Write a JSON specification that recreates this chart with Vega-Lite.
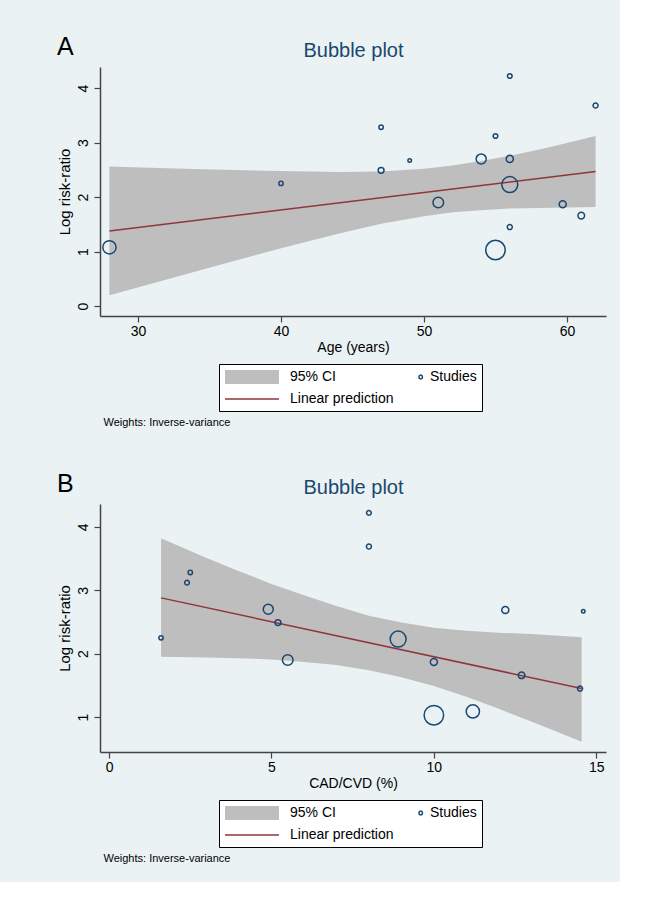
{
  "$schema": "https://vega.github.io/schema/vega-lite/v6.json",
  "background": "#eaf2f3",
  "padding": {"left": 57, "top": 35, "right": 14, "bottom": 19},
  "spacing": 45,
  "config": {
    "view": {"stroke": null, "fill": "white"},
    "font": "Liberation Sans",
    "axis": {"labelFont": "Liberation Sans", "titleFont": "Liberation Sans", "labelColor": "black", "titleColor": "black", "titleFontWeight": "normal", "tickColor": "#444444", "domainColor": "#444444", "domainWidth": 1.5, "tickWidth": 1.2, "gridColor": "#eaf2f3", "gridWidth": 1.5},
    "legend": {
      "orient": "none", "title": null, "direction": "horizontal", "columns": 2, "gridAlign": "none",
      "symbolSize": 196, "symbolStrokeWidth": 1.5, "symbolOpacity": 1, "labelOffset": 50, "labelFontSize": 14, "labelFont": "Liberation Sans", "labelColor": "black", "labelLimit": 300,
      "strokeColor": "black", "fillColor": "white", "padding": 5, "columnPadding": -30, "rowPadding": 4
    },
    "title": {"font": "Liberation Sans"}
  },
  "datasets": {
    "leg": [{"s": "95% CI"}, {"s": "Studies"}, {"s": "Linear prediction"}],
    "bandA": [
      {"x": 28, "lo": 0.20, "hi": 2.56}, {"x": 32, "lo": 0.49, "hi": 2.53}, {"x": 36, "lo": 0.78, "hi": 2.50},
      {"x": 40, "lo": 1.06, "hi": 2.48}, {"x": 44, "lo": 1.33, "hi": 2.46}, {"x": 47, "lo": 1.51, "hi": 2.47},
      {"x": 50, "lo": 1.65, "hi": 2.52}, {"x": 52, "lo": 1.72, "hi": 2.58}, {"x": 54, "lo": 1.76, "hi": 2.66},
      {"x": 56, "lo": 1.79, "hi": 2.76}, {"x": 58, "lo": 1.80, "hi": 2.87}, {"x": 60, "lo": 1.81, "hi": 2.99},
      {"x": 62, "lo": 1.82, "hi": 3.12}
    ],
    "lineA": [{"x": 28, "y": 1.38}, {"x": 62, "y": 2.47}],
    "ptsA": [
      {"x": 28, "y": 1.08, "w": 56}, {"x": 40, "y": 2.25, "w": 6},
      {"x": 47, "y": 3.28, "w": 6}, {"x": 47, "y": 2.49, "w": 11},
      {"x": 49, "y": 2.67, "w": 4}, {"x": 51, "y": 1.90, "w": 36},
      {"x": 54, "y": 2.70, "w": 32}, {"x": 55, "y": 3.12, "w": 7},
      {"x": 56, "y": 4.22, "w": 7}, {"x": 56, "y": 2.70, "w": 16},
      {"x": 56, "y": 2.23, "w": 81}, {"x": 56, "y": 1.45, "w": 8},
      {"x": 55, "y": 1.03, "w": 121}, {"x": 59.7, "y": 1.87, "w": 16},
      {"x": 61, "y": 1.66, "w": 14}, {"x": 62, "y": 3.68, "w": 8}
    ],
    "bandB": [
      {"x": 1.6, "lo": 1.95, "hi": 3.82}, {"x": 3, "lo": 1.94, "hi": 3.51}, {"x": 4, "lo": 1.93, "hi": 3.30},
      {"x": 5, "lo": 1.91, "hi": 3.10}, {"x": 6, "lo": 1.87, "hi": 2.92}, {"x": 7, "lo": 1.82, "hi": 2.75},
      {"x": 8, "lo": 1.74, "hi": 2.60}, {"x": 9, "lo": 1.63, "hi": 2.49}, {"x": 10, "lo": 1.49, "hi": 2.41},
      {"x": 11, "lo": 1.32, "hi": 2.36}, {"x": 12, "lo": 1.13, "hi": 2.33}, {"x": 13, "lo": 0.93, "hi": 2.31},
      {"x": 14.55, "lo": 0.61, "hi": 2.26}
    ],
    "lineB": [{"x": 1.6, "y": 2.88}, {"x": 14.55, "y": 1.45}],
    "ptsB": [
      {"x": 11.2, "y": 1.09, "w": 56}, {"x": 1.6, "y": 2.25, "w": 6},
      {"x": 2.5, "y": 3.28, "w": 6}, {"x": 5.2, "y": 2.49, "w": 11},
      {"x": 14.6, "y": 2.67, "w": 4}, {"x": 5.5, "y": 1.90, "w": 36},
      {"x": 4.9, "y": 2.70, "w": 32}, {"x": 2.4, "y": 3.12, "w": 7},
      {"x": 8.0, "y": 4.22, "w": 7}, {"x": 12.2, "y": 2.69, "w": 16},
      {"x": 8.9, "y": 2.23, "w": 81}, {"x": 14.5, "y": 1.45, "w": 8},
      {"x": 10.0, "y": 1.03, "w": 121}, {"x": 10.0, "y": 1.87, "w": 16},
      {"x": 12.7, "y": 1.66, "w": 14}, {"x": 8.0, "y": 3.69, "w": 8}
    ]
  },
  "vconcat": [
    {
      "title": {"text": "A", "anchor": "start", "frame": "bounds", "fontSize": 25, "fontWeight": "normal", "color": "black", "offset": 0, "dy": 20},
      "width": 506, "height": 249,
      "resolve": {"axis": {"x": "independent"}},
      "layer": [
        {
          "data": {"name": "bandA"},
          "mark": {"type": "area", "color": "#bebebe", "opacity": 1},
          "encoding": {
            "x": {"field": "x", "type": "quantitative", "scale": {"domain": [27.34, 62.73], "nice": false, "zero": false},
                  "axis": {"orient": "top", "title": "Bubble plot", "titleFontSize": 20, "titleColor": "#1a476f", "titlePadding": 7, "labels": false, "ticks": false, "domain": false, "grid": false}},
            "y": {"field": "lo", "type": "quantitative", "scale": {"domain": [-0.18, 4.385], "nice": false, "zero": false},
                  "axis": {"title": "Log risk-ratio", "values": [0, 1, 2, 3, 4], "format": "d", "labelAngle": -90, "labelAlign": "center", "labelBaseline": "bottom", "labelPadding": 4, "tickSize": 6, "titleFontSize": 15, "titlePadding": 4, "labelFontSize": 14, "grid": true}},
            "y2": {"field": "hi"}
          }
        },
        {
          "data": {"name": "lineA"},
          "mark": {"type": "line", "color": "#90353b", "strokeWidth": 1.5},
          "encoding": {
            "x": {"field": "x", "type": "quantitative",
                  "axis": {"orient": "bottom", "title": "Age (years)", "values": [30, 40, 50, 60], "titleFontSize": 14, "labelFontSize": 14, "tickSize": 6, "labelPadding": 2, "titlePadding": 2, "grid": false, "labelFlush": false}},
            "y": {"field": "y", "type": "quantitative", "axis": {"title": "Log risk-ratio", "format": "d"}}
          }
        },
        {
          "data": {"name": "ptsA"},
          "mark": {"type": "point", "filled": false, "color": "#1a476f", "strokeWidth": 1.5, "opacity": 1},
          "encoding": {
            "x": {"field": "x", "type": "quantitative",
                  "axis": {"orient": "bottom", "title": "Weights: Inverse-variance", "titleFontSize": 11, "titleAnchor": "start", "titleAlign": "left", "titleBaseline": "top", "titlePadding": 0, "offset": 100, "titleX": 3, "labels": false, "ticks": false, "domain": false, "grid": false}},
            "y": {"field": "y", "type": "quantitative", "axis": {"title": "Log risk-ratio", "format": "d"}},
            "size": {"field": "w", "type": "quantitative", "scale": {"type": "linear", "domain": [0, 121], "range": [0, 380]}, "legend": null}
          }
        },
        {
          "data": {"name": "leg"},
          "mark": {"type": "point", "opacity": 0},
          "encoding": {
            "fill": {"field": "s", "type": "nominal", "scale": {"domain": ["95% CI", "Studies", "Linear prediction"], "range": ["#bebebe", "transparent", "transparent"]}, "legend": {"legendX": 119, "legendY": 297}},
            "stroke": {"field": "s", "type": "nominal", "scale": {"domain": ["95% CI", "Studies", "Linear prediction"], "range": ["transparent", "#1a476f", "#90353b"]}, "legend": {"legendX": 119, "legendY": 297}},
            "shape": {"field": "s", "type": "nominal", "scale": {"domain": ["95% CI", "Studies", "Linear prediction"], "range": ["M-1,-1H6.71V1H-1Z", "M6.72,0A0.243,0.243 0 1,1 7.2,0A0.243,0.243 0 1,1 6.72,0Z", "M-1,0H6.71"]}, "legend": {"legendX": 119, "legendY": 297}}
          }
        }
      ]
    },
    {
      "title": {"text": "B", "anchor": "start", "frame": "bounds", "fontSize": 25, "fontWeight": "normal", "color": "black", "offset": 0, "dy": 20},
      "width": 506, "height": 248,
      "resolve": {"axis": {"x": "independent"}},
      "layer": [
        {
          "data": {"name": "bandB"},
          "mark": {"type": "area", "color": "#bebebe", "opacity": 1},
          "encoding": {
            "x": {"field": "x", "type": "quantitative", "scale": {"domain": [-0.28, 15.3], "nice": false, "zero": false},
                  "axis": {"orient": "top", "title": "Bubble plot", "titleFontSize": 20, "titleColor": "#1a476f", "titlePadding": 7, "labels": false, "ticks": false, "domain": false, "grid": false}},
            "y": {"field": "lo", "type": "quantitative", "scale": {"domain": [0.45, 4.36], "nice": false, "zero": false},
                  "axis": {"title": "Log risk-ratio", "values": [1, 2, 3, 4], "format": "d", "labelAngle": -90, "labelAlign": "center", "labelBaseline": "bottom", "labelPadding": 4, "tickSize": 6, "titleFontSize": 15, "titlePadding": 4, "labelFontSize": 14, "grid": true}},
            "y2": {"field": "hi"}
          }
        },
        {
          "data": {"name": "lineB"},
          "mark": {"type": "line", "color": "#90353b", "strokeWidth": 1.5},
          "encoding": {
            "x": {"field": "x", "type": "quantitative",
                  "axis": {"orient": "bottom", "title": "CAD/CVD (%)", "values": [0, 5, 10, 15], "titleFontSize": 14, "labelFontSize": 14, "tickSize": 6, "labelPadding": 2, "titlePadding": 2, "grid": false, "labelFlush": false}},
            "y": {"field": "y", "type": "quantitative", "axis": {"title": "Log risk-ratio", "format": "d"}}
          }
        },
        {
          "data": {"name": "ptsB"},
          "mark": {"type": "point", "filled": false, "color": "#1a476f", "strokeWidth": 1.5, "opacity": 1},
          "encoding": {
            "x": {"field": "x", "type": "quantitative",
                  "axis": {"orient": "bottom", "title": "Weights: Inverse-variance", "titleFontSize": 11, "titleAnchor": "start", "titleAlign": "left", "titleBaseline": "top", "titlePadding": 0, "offset": 100, "titleX": 3, "labels": false, "ticks": false, "domain": false, "grid": false}},
            "y": {"field": "y", "type": "quantitative", "axis": {"title": "Log risk-ratio", "format": "d"}},
            "size": {"field": "w", "type": "quantitative", "scale": {"type": "linear", "domain": [0, 121], "range": [0, 380]}, "legend": null}
          }
        },
        {
          "data": {"name": "leg"},
          "mark": {"type": "point", "opacity": 0},
          "encoding": {
            "fill": {"field": "s", "type": "nominal", "scale": {"domain": ["95% CI", "Studies", "Linear prediction"], "range": ["#bebebe", "transparent", "transparent"]}, "legend": {"legendX": 119, "legendY": 296}},
            "stroke": {"field": "s", "type": "nominal", "scale": {"domain": ["95% CI", "Studies", "Linear prediction"], "range": ["transparent", "#1a476f", "#90353b"]}, "legend": {"legendX": 119, "legendY": 296}},
            "shape": {"field": "s", "type": "nominal", "scale": {"domain": ["95% CI", "Studies", "Linear prediction"], "range": ["M-1,-1H6.71V1H-1Z", "M6.72,0A0.243,0.243 0 1,1 7.2,0A0.243,0.243 0 1,1 6.72,0Z", "M-1,0H6.71"]}, "legend": {"legendX": 119, "legendY": 296}}
          }
        }
      ]
    }
  ],
  "resolve": {"scale": {"fill": "independent", "stroke": "independent", "shape": "independent", "size": "independent", "x": "independent", "y": "independent"}, "legend": {"fill": "independent", "stroke": "independent", "shape": "independent"}}
}
